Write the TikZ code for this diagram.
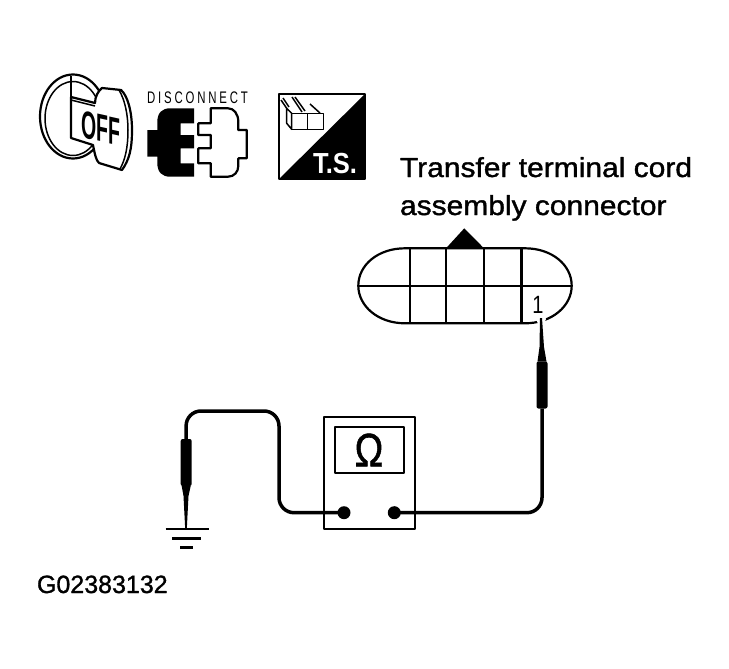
\documentclass[tikz,border=0pt]{standalone}
\usepackage{fontspec}
\setmainfont{Liberation Sans}
\newfontfamily\heavyfont[FakeBold=1.2]{Liberation Sans}
\newfontfamily\spacedfont[LetterSpace=25]{Liberation Sans}
\usetikzlibrary{positioning, calc}

\begin{document}
\begin{tikzpicture}[ x = 1pt
                     , y = -1pt
                     , line join = round
                     , every node/.style = { inner sep = 0pt, outer sep = 0pt, align = left }
                     , outline/.style = { draw = black, line width = 2.2pt }
                     , fine/.style = { draw = black, line width = 1.5pt }
                     , wire/.style = { draw = black, line width = 3.5pt, rounded corners = 15pt }
                     , handle/.style = { fill = black, rounded corners = 2pt, minimum width = 11pt, minimum height = 47pt }
                     , terminal/.style = { circle, fill = black, minimum size = 13pt }
                     ]

  \useasboundingbox (0,0) rectangle (729,669);

  % key symbol
  \draw[outline] (73,116.5) ellipse [x radius = 33pt, y radius = 42pt];
  \draw[fine] (73,118.5) ellipse [x radius = 28pt, y radius = 37pt];
  \draw[outline, fill = white] (71,97) -- (95,103) .. controls (95,97) and (98,91) .. (102,88) -- (121,90)
    .. controls (127,95) and (132,110) .. (132,130) .. controls (132,150) and (129,160) .. (122,170)
    -- (99,163) .. controls (96,160) and (95,155) .. (93,145) -- (71,138) -- cycle;
  \draw[outline] (71,76) -- (71,97);
  \draw[fine] (71,100) -- (95,106);
  \draw[fine] (119,90) .. controls (125,100) and (128,115) .. (128,130)
    .. controls (128,148) and (125,160) .. (120,169);
  \node (offlabel) [xscale = 0.5, yslant = -0.11, font = \fontsize{39}{39}\bfseries] at (101,128) {OFF};

  % disconnect symbol
  \node (disconnect) [anchor = base west, xscale = 0.68, font = \fontsize{16.75}{17}\spacedfont] at (147,103) {DISCONNECT};
  \fill (194,108.3) -- (170,108.3) .. controls (162,108.3) and (157.3,113) .. (157.3,122) -- (157.3,130)
    -- (147.3,130) -- (147.3,156.7) -- (157.3,156.7) -- (157.3,163)
    .. controls (157.3,172) and (162,176.7) .. (170,176.7) -- (194,176.7) -- (194,163.3) -- (180.7,163.3)
    -- (180.7,148.3) -- (194,148.3) -- (194,135) -- (180.7,135) -- (180.7,123.3) -- (194,123.3) -- cycle;
  \draw[outline] (210.7,108.3) -- (228,108.3) .. controls (234,108.3) and (238.3,114) .. (238.3,121.7) -- (238.3,130)
    -- (246.7,130) -- (246.7,158.3) -- (238.3,158.3) -- (238.3,166)
    .. controls (238.3,172) and (234,176.7) .. (228,176.7) -- (210.7,176.7) -- (210.7,163.3) -- (198.3,163.3)
    -- (198.3,148.3) -- (210.7,148.3) -- (210.7,135) -- (198.3,135) -- (198.3,123.3) -- (210.7,123.3) -- cycle;

  % test symbol
  \draw[outline, line width = 2.4pt] (279,94) rectangle (365,179);
  \fill (365,94) -- (365,179) -- (279,179) -- cycle;
  \node (tslabel) [anchor = base west, text = white, xscale = 0.88, font = \fontsize{29}{29}\bfseries] at (313,173.5) {T.S.};
  \draw[fine] (286.7,108.3) -- (291.7,113.3) -- (291.7,129.3) -- (286.7,123.3) -- cycle;
  \draw[fine] (291.7,113.3) rectangle (323.3,129.3);
  \draw[fine] (307.3,113.3) -- (307.3,129.3);
  \draw[fine] (286.7,108.3) -- (281,100) (289,107) -- (283,98) (302,112) -- (292,97) (305,111) -- (295,97) (320,113) -- (310,104);

  % connector
  \node (title) [anchor = base west, xscale = 1.09, font = \fontsize{27.5}{30}\heavyfont] at (400,177) {Transfer terminal cord};
  \node (subtitle) [anchor = base west, xscale = 1.09, font = \fontsize{27.5}{30}\heavyfont] at (400,215) {assembly connector};
  \draw[outline] (405,248.3) -- (525,248.3) .. controls (552,248.3) and (571.7,265) .. (571.7,285.7)
    .. controls (571.7,306) and (552,323.3) .. (525,323.3) -- (405,323.3)
    .. controls (378,323.3) and (358.3,306) .. (358.3,285.7) .. controls (358.3,265) and (378,248.3) .. (405,248.3) -- cycle;
  \draw[outline] (358.3,285.7) -- (571.7,285.7);
  \foreach \xpos in {410, 446, 484} {
    \draw[outline] (\xpos,248.3) -- (\xpos,323.3);
  }
  \draw[outline, line width = 3.2pt] (521.7,248.3) -- (521.7,323.3);
  \fill (446,248.3) -- (464.3,228.3) -- (484,248.3) -- cycle;
  \fill[white] (541,319) circle (5pt);
  \node (pinone) [xscale = 0.8, font = \fontsize{25}{25}\selectfont, anchor = base] at (538,313) {1};

  % meter
  \node (meter) [outline, minimum width = 91pt, minimum height = 112.5pt] at (369.5,473) {};
  \node (screen) [outline, minimum width = 69pt, minimum height = 46pt] at (369.5,450.3) {};
  \node (omega) [xscale = 0.82, font = \fontsize{47}{47}\heavyfont] at (369,450) {Ω};
  \node (common) [terminal] at (344,512.7) {};
  \node (probein) [terminal] at (394.3,512.7) {};

  % probes
  \node (leftprobe) [handle] at (186.2,462.5) {};
  \node (rightprobe) [handle] at (542,385) {};
  \coordinate (gnd) at (186,529);
  \coordinate (pinend) at (541,318);
  \fill ([xshift = 1pt]leftprobe.south west) -- ([xshift = -1pt]leftprobe.south east) -- (188.5,496)
    -- ([xshift = 0.8pt]gnd) -- ([xshift = -0.8pt]gnd) -- (183.5,496) -- cycle;
  \fill ([xshift = 1pt]rightprobe.north west) -- ([xshift = -1pt]rightprobe.north east) -- (544,347)
    -- ([xshift = 1pt]pinend) -- ([xshift = -1pt]pinend) -- (539.5,347) -- cycle;
  \draw[wire] (common.center) -- (279,512.7) -- (279,411) -- (186,411) -- (leftprobe.north);
  \draw[wire] (probein.center) -- (542,512.7) -- (rightprobe.south);

  % ground
  \draw[line width = 2pt] (165.7,529) -- (209,529);
  \draw[line width = 3pt] (172,538.3) -- (201,538.3);
  \draw[line width = 3pt] (180,547.7) -- (193.3,547.7);

  \node (figcode) [anchor = base west, font = \fontsize{25}{25}\heavyfont] at (37,593) {G02383132};

\end{tikzpicture}
\end{document}
